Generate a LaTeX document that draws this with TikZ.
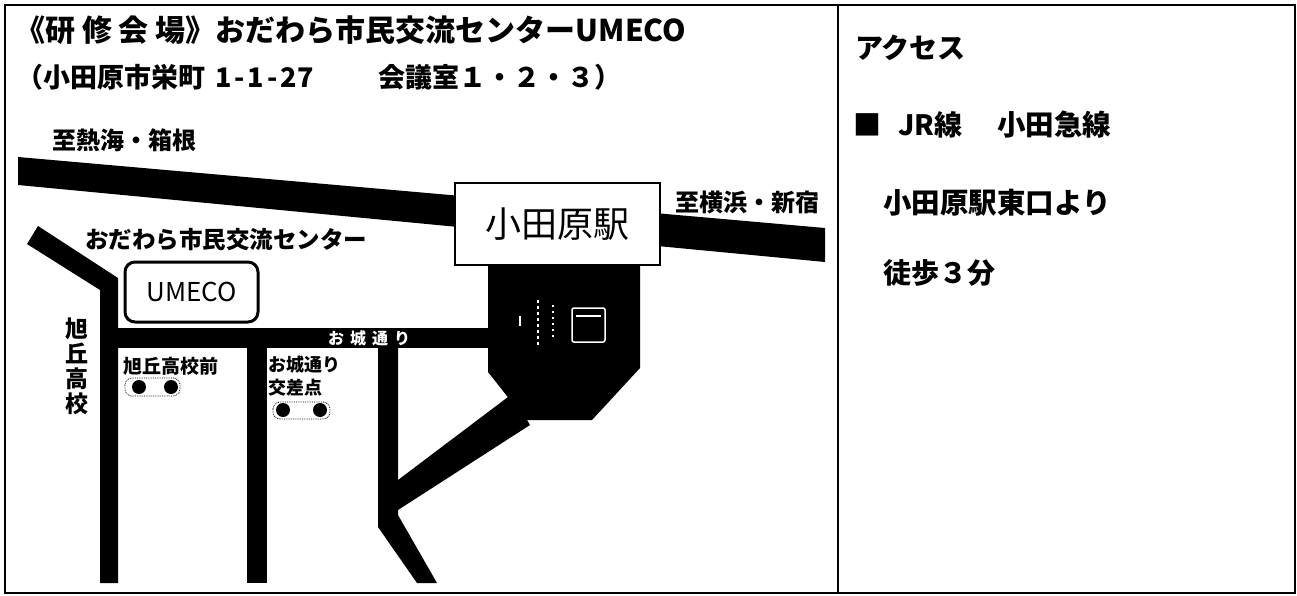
\documentclass[tikz,border=0pt]{standalone}
\usepackage{fontspec}
\setmainfont{Noto Sans CJK JP}
\newcommand\fsz[1]{\fontsize{#1}{#1}\selectfont}
\begin{document}
\begin{tikzpicture}[x=1pt,y=-1pt,
  txt/.style={inner sep=0pt, anchor=west},
  btxt/.style={txt, font={\bfseries\fsz{#1}}},
  rtxt/.style={txt, font={\fsz{#1}}},
  icon/.style={white, line width=1.5},
  signal/.style={densely dotted, line width=0.8, rounded corners=7}
  ]
\useasboundingbox (0,0) rectangle (1297,596);
\fill[white] (0,0) rectangle (1297,596);
% frame
\draw[line width=2] (5,5) rectangle (1295,593);
\draw[line width=2] (838,5) -- (838,593);
% railway band
\fill (18,157) -- (825,228) -- (825,262) -- (18,185) -- cycle;
% roads
\fill (38,226) -- (118,278) -- (118,583) -- (100,583) -- (100,290) -- (27,244) -- cycle;
\fill (100,328) rectangle (492,348);
\fill (247,348) rectangle (267,583);
\fill (378,348) -- (398,348) -- (398,515) -- (437,583) -- (417,583) -- (378,527) -- cycle;
\fill (398,480) -- (512,394) -- (530,425) -- (398,510) -- cycle;
% station building
\fill (488,265) -- (640,265) -- (640,368) -- (592,420) -- (526,420) -- (488,372) -- cycle;
% station icon
\draw[icon, dash pattern=on 3pt off 3pt] (538,300) -- (538,345);
\draw[icon, dash pattern=on 2pt off 4pt] (553,305) -- (553,338);
\draw[icon] (520,316) -- (520,326);
\draw[icon, rounded corners=2] (572,308) rectangle (605,342);
\draw[icon] (576,316) -- (601,316);
% station box
\node[draw, line width=1.5, fill=white, minimum width=205, minimum height=82, inner sep=0pt, font=\fsz{36}] (eki) at (557.5,224) {小田原駅};
% UMECO box
\node[draw, line width=3, rounded corners=10, minimum width=133, minimum height=60, inner sep=0pt, font=\fsz{26}] (umeco) at (191.5,292) {UMECO};
% signals
\draw[signal] (125,378) rectangle (180,396);
\fill (139,387) circle (7);
\fill (171,387) circle (7);
\draw[signal] (273,402) rectangle (330,419);
\fill (283,410) circle (7);
\fill (320,410) circle (7);
% texts
\node[btxt=30] (t1) at (15,30) {《研 修 会 場》おだわら市民交流センターUMECO};
\node[btxt=27] (t2a) at (16,77) {（小田原市栄町\hspace{10pt}1\hspace{3pt}-\hspace{3pt}1\hspace{3pt}-\hspace{3pt}27};
\node[btxt=27] (t2b) at (378,77) {会議室１・２・３）};
\node[btxt=24] (atami) at (52,140) {至熱海・箱根};
\node[btxt=24] (yoko) at (675,202) {至横浜・新宿};
\node[btxt=23.5] (center) at (85,240) {おだわら市民交流センター};
\node[inner sep=0pt, align=center, font={\bfseries\fontsize{23}{25}\selectfont}] (koko) at (77,366) {旭\\丘\\高\\校};
\node[btxt=19] (kmae) at (123,366) {旭丘高校前};
\node[btxt=18] (odori) at (268,365) {お城通り};
\node[btxt=18] (kosa) at (268,388) {交差点};
\node[btxt=16, text=white] (rlabel) at (328,338) {お\hspace{6pt}城\hspace{6pt}通\hspace{6pt}り};
\node[btxt=28] (acc) at (855,48) {アクセス};
\node[btxt=28] (sq) at (853,125) {■};
\node[btxt=28] (jr) at (898,125) {JR線};
\node[btxt=28.5] (oda) at (997,125) {小田急線};
\node[btxt=28.5] (east) at (883,203) {小田原駅東口より};
\node[btxt=28] (walk) at (883,273) {徒歩３分};
\end{tikzpicture}
\end{document}
